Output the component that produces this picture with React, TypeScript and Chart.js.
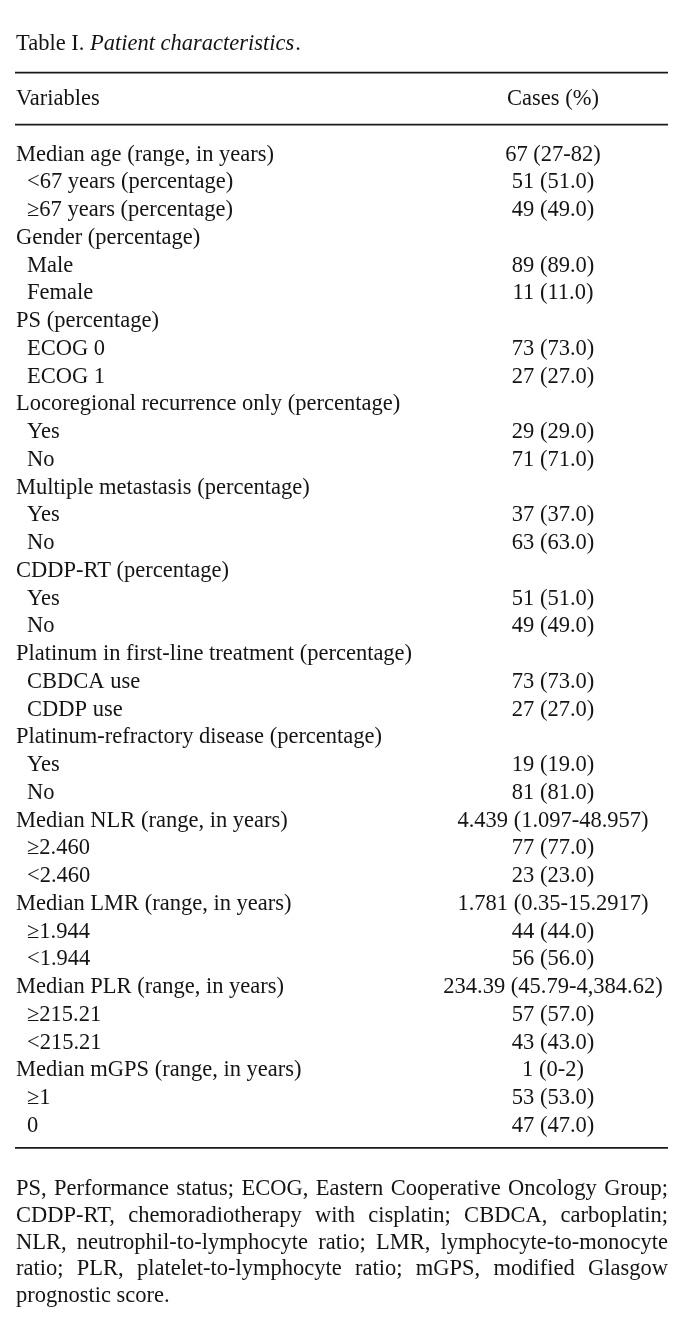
import React, { useEffect, useRef } from "react";
import { Chart, registerables } from "chart.js";

Chart.register(...registerables);

const titleLead = "Table I. ";
const titleItalic = "Patient characteristics";
const titleEnd = ".";

const headerLeft = "Variables";
const headerRight = "Cases (%)";

const variables = [
  "Median age (range, in years)",
  "<67 years (percentage)",
  "≥67 years (percentage)",
  "Gender (percentage)",
  "Male",
  "Female",
  "PS (percentage)",
  "ECOG 0",
  "ECOG 1",
  "Locoregional recurrence only (percentage)",
  "Yes",
  "No",
  "Multiple metastasis (percentage)",
  "Yes",
  "No",
  "CDDP-RT (percentage)",
  "Yes",
  "No",
  "Platinum in first-line treatment (percentage)",
  "CBDCA use",
  "CDDP use",
  "Platinum-refractory disease (percentage)",
  "Yes",
  "No",
  "Median NLR (range, in years)",
  "≥2.460",
  "<2.460",
  "Median LMR (range, in years)",
  "≥1.944",
  "<1.944",
  "Median PLR (range, in years)",
  "≥215.21",
  "<215.21",
  "Median mGPS (range, in years)",
  "≥1",
  "0",
];

const levels = [
  0, 1, 1, 0, 1, 1, 0, 1, 1, 0, 1, 1, 0, 1, 1, 0, 1, 1, 0, 1, 1, 0, 1, 1, 0, 1,
  1, 0, 1, 1, 0, 1, 1, 0, 1, 1,
];

const cases = [
  "67 (27-82)",
  "51 (51.0)",
  "49 (49.0)",
  "",
  "89 (89.0)",
  "11 (11.0)",
  "",
  "73 (73.0)",
  "27 (27.0)",
  "",
  "29 (29.0)",
  "71 (71.0)",
  "",
  "37 (37.0)",
  "63 (63.0)",
  "",
  "51 (51.0)",
  "49 (49.0)",
  "",
  "73 (73.0)",
  "27 (27.0)",
  "",
  "19 (19.0)",
  "81 (81.0)",
  "4.439 (1.097-48.957)",
  "77 (77.0)",
  "23 (23.0)",
  "1.781 (0.35-15.2917)",
  "44 (44.0)",
  "56 (56.0)",
  "234.39 (45.79-4,384.62)",
  "57 (57.0)",
  "43 (43.0)",
  "1 (0-2)",
  "53 (53.0)",
  "47 (47.0)",
];

const footnoteLines = [
  "PS, Performance status; ECOG, Eastern Cooperative Oncology Group;",
  "CDDP-RT, chemoradiotherapy with cisplatin; CBDCA, carboplatin;",
  "NLR, neutrophil-to-lymphocyte ratio; LMR, lymphocyte-to-monocyte",
  "ratio; PLR, platelet-to-lymphocyte ratio; mGPS, modified Glasgow",
  "prognostic score.",
];

const W = 690;
const H = 1330;
const FONT_FAMILY = '"Liberation Serif", "Times New Roman", serif';
const FONT_SIZE = 22.5;
const TEXT_COLOR = "#141414";

const tablePlugin = {
  id: "tablePlugin",
  afterDraw(chart: any) {
    const ctx = chart.ctx as CanvasRenderingContext2D;
    const x = chart.scales.x;
    const y = chart.scales.y;
    const left = x.getPixelForValue(16);
    const right = x.getPixelForValue(668);
    const valueCenter = x.getPixelForValue(553);
    const indent = 11;
    const y0 = y.getPixelForValue(0);
    const yLast = y.getPixelForValue(variables.length - 1);
    const normal = `${FONT_SIZE}px ${FONT_FAMILY}`;
    const italic = `italic ${FONT_SIZE}px ${FONT_FAMILY}`;

    ctx.save();
    ctx.fillStyle = TEXT_COLOR;
    ctx.strokeStyle = "#1a1a1a";
    ctx.textBaseline = "alphabetic";

    // title
    const titleY = y0 - 111;
    ctx.font = normal;
    ctx.textAlign = "left";
    ctx.fillText(titleLead, left, titleY);
    let tx = left + ctx.measureText(titleLead).width;
    ctx.font = italic;
    ctx.fillText(titleItalic, tx, titleY);
    tx += ctx.measureText(titleItalic).width;
    ctx.font = normal;
    ctx.fillText(titleEnd, tx + 1, titleY);

    // rules
    const rule = (yy: number) => {
      ctx.beginPath();
      ctx.lineWidth = 1.8;
      ctx.moveTo(left - 1, yy);
      ctx.lineTo(right, yy);
      ctx.stroke();
    };
    rule(y0 - 88);
    rule(y0 - 36);
    rule(yLast + 16);

    // header
    ctx.font = normal;
    ctx.textAlign = "left";
    ctx.fillText(headerLeft, left, y0 - 56);
    ctx.textAlign = "center";
    ctx.fillText(headerRight, valueCenter, y0 - 56);

    // rows
    variables.forEach((label, i) => {
      const py = y.getPixelForValue(i);
      ctx.textAlign = "left";
      ctx.fillText(label, left + levels[i] * indent, py);
      if (cases[i]) {
        ctx.textAlign = "center";
        ctx.fillText(cases[i], valueCenter, py);
      }
    });

    // footnote (justified)
    ctx.textAlign = "left";
    const fullWidth = right - left;
    footnoteLines.forEach((line, k) => {
      const py = yLast + 63 + k * 26.8;
      const words = line.split(" ");
      if (k === footnoteLines.length - 1 || words.length < 2) {
        ctx.fillText(line, left, py);
        return;
      }
      const widths = words.map((w) => ctx.measureText(w).width);
      const total = widths.reduce((a, b) => a + b, 0);
      const gap = (fullWidth - total) / (words.length - 1);
      let cx = left;
      words.forEach((w, j) => {
        ctx.fillText(w, cx, py);
        cx += widths[j] + gap;
      });
    });

    ctx.restore();
  },
};

export default function App() {
  const canvasRef = useRef<HTMLCanvasElement | null>(null);

  useEffect(() => {
    const canvas = canvasRef.current;
    if (!canvas) return;
    const firstRow = 160.7;
    const rowStep = 27.75;
    const lastRow = firstRow + rowStep * (variables.length - 1);
    const chart = new Chart(canvas, {
      type: "bar",
      data: {
        labels: variables,
        datasets: [
          {
            label: headerRight,
            data: variables.map(() => null),
            backgroundColor: "rgba(0,0,0,0)",
          },
        ],
      },
      options: {
        indexAxis: "y",
        animation: false,
        responsive: false,
        maintainAspectRatio: false,
        devicePixelRatio: 1,
        layout: {
          padding: { top: firstRow, bottom: H - lastRow, left: 0, right: 0 },
        },
        plugins: {
          legend: { display: false },
          tooltip: { enabled: false },
          title: { display: false },
        },
        scales: {
          x: { type: "linear", min: 0, max: W, display: false },
          y: { type: "category", offset: false, display: false },
        },
      },
      plugins: [tablePlugin],
    });
    return () => chart.destroy();
  }, []);

  return (
    <div
      style={{
        position: "absolute",
        left: 0,
        top: 0,
        width: W,
        height: H,
        background: "#ffffff",
      }}
    >
      <canvas
        ref={canvasRef}
        width={W}
        height={H}
        style={{ display: "block", width: W, height: H }}
      />
    </div>
  );
}
